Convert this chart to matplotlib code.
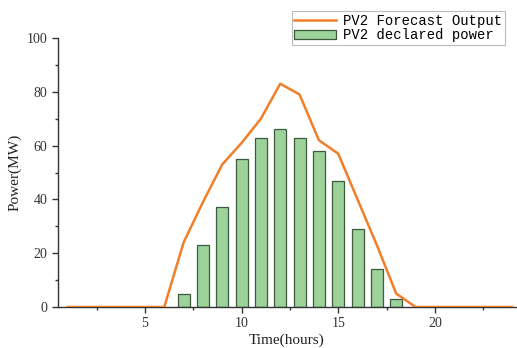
import matplotlib
matplotlib.use("Agg")
import matplotlib.pyplot as plt
from matplotlib.ticker import MultipleLocator

hours = list(range(1, 25))
forecast = [0, 0, 0, 0, 0, 0, 24, 39, 53, 61, 70, 83, 79, 62, 57, 40, 23, 5, 0, 0, 0, 0, 0, 0]
bar_hours = [7, 8, 9, 10, 11, 12, 13, 14, 15, 16, 17, 18]
declared = [5, 23, 37, 55, 63, 66, 63, 58, 47, 29, 14, 3]

fig = plt.figure(figsize=(5.17, 3.48), dpi=100)
ax = fig.add_axes([58/517, 1-307/348, (516-58)/517, (307-38)/348])

serif = ["Liberation Serif", "DejaVu Serif"]
mono = ["Liberation Mono", "DejaVu Sans Mono"]

bars = ax.bar(bar_hours, declared, width=0.62, color="#9dd39a", edgecolor="#3d5a3d",
              linewidth=0.9, zorder=2)
line, = ax.plot(hours, forecast, color="#f07f2a", linewidth=1.8, zorder=3)

ax.set_xlim(0.5, 24.2)
ax.set_ylim(0, 100)
ax.set_xticks([5, 10, 15, 20])
ax.xaxis.set_minor_locator(MultipleLocator(2.5))
ax.yaxis.set_major_locator(MultipleLocator(20))
ax.yaxis.set_minor_locator(MultipleLocator(10))

for s in ["top", "right"]:
    ax.spines[s].set_visible(False)
for s in ["left", "bottom"]:
    ax.spines[s].set_color("#333333")
    ax.spines[s].set_linewidth(1.0)

ax.tick_params(axis="both", which="major", length=4, width=1, color="#333333",
               labelsize=10, labelcolor="#333333")
ax.tick_params(axis="both", which="minor", length=2.5, width=1, color="#333333")
for lab in ax.get_xticklabels() + ax.get_yticklabels():
    lab.set_family(serif)

ax.set_xlabel("Time(hours)", family=serif, fontsize=11, color="#222222", labelpad=2)
ax.set_ylabel("Power(MW)", family=serif, fontsize=11, color="#222222", labelpad=4)

leg = fig.legend([line, bars], ["PV2 Forecast Output", "PV2 declared power"],
                 loc="upper right", bbox_to_anchor=(505/517, 1-11/348),
                 prop={"family": mono, "size": 10}, frameon=True, fancybox=False,
                 borderpad=0.2, labelspacing=0.05, handlelength=3.0, handletextpad=0.5,
                 borderaxespad=0)
leg.get_frame().set_edgecolor("#aaaaaa")
leg.get_frame().set_linewidth(0.8)

fig.savefig("out.png", dpi=100)
